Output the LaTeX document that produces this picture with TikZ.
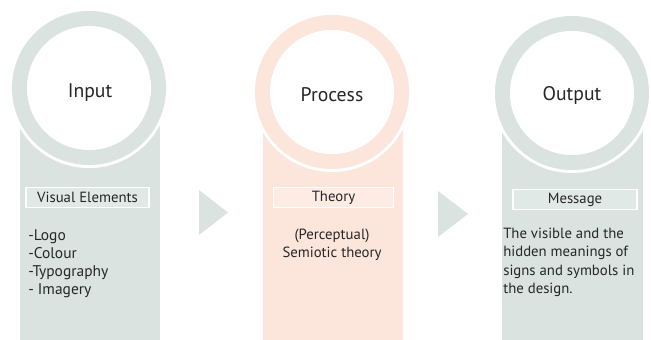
\documentclass[tikz,border=0pt]{standalone}
\usepackage{fontspec}
\setmainfont{PT Sans}
\usetikzlibrary{positioning}
\definecolor{sage}{RGB}{218,227,224}
\definecolor{blush}{RGB}{252,229,219}
\definecolor{ink}{RGB}{38,38,40}
\tikzset{
  pillar/.style={inner sep=0pt, minimum width=3.5cm, minimum height=6.25cm, anchor=north},
  halo/.style={circle, fill=white, inner sep=0pt, minimum size=4.0cm},
  ring/.style={circle, inner sep=0pt, minimum size=3.85cm},
  hole/.style={circle, fill=white, inner sep=0pt, minimum size=3.1cm},
  heading/.style={font=\fontsize{14}{16}\selectfont, text=ink},
  tag/.style={draw=white, line width=0.8pt, inner sep=0pt, minimum height=0.5cm,
              font=\fontsize{10.5}{12}\selectfont, text=ink},
  blurb/.style={font=\fontsize{10.5}{12.9}\selectfont, text=ink, align=left, inner sep=0pt},
  listblurb/.style={blurb, font=\fontsize{11}{12.9}\selectfont},
}

\begin{document}
\begin{tikzpicture}[x=0.025cm, y=-0.025cm]
    \useasboundingbox (0,0) rectangle (651,340);
    % --- the three columns ---
    \node[pillar, fill=sage]  (in-col)  at (90,90) {};
    \node[pillar, fill=blush] (pro-col) at (333,92) {};
    \node[pillar, fill=sage]  (out-col) at (572.5,93) {};
    % --- round heads, with a thin white edge over the column ---
    \node[halo] (in-halo)  at (89,88) {};
    \node[ring, fill=sage] (in-ring) at (89,88) {};
    \node[hole] (in-hole) at (89,88) {};
    \node[heading] (in-head) at (90,93) {Input};
    \node[halo] (pro-halo) at (332,92) {};
    \node[ring, fill=blush] (pro-ring) at (332,92) {};
    \node[hole] (pro-hole) at (332,92) {};
    \node[heading] (pro-head) at (332,95) {Process};
    \node[halo] (out-halo) at (572,93) {};
    \node[ring, fill=sage] (out-ring) at (572,93) {};
    \node[hole] (out-hole) at (572,93) {};
    \node[heading] (out-head) at (572,95) {Output};
    % --- labels ---
    \node[tag, fill=sage!80!white, minimum width=3.075cm] (in-tag) at (87.5,197.5) {Visual Elements};
    \node[tag, fill=blush!75!white, minimum width=3.0cm] (pro-tag) at (333.5,197.5) {Theory};
    \node[tag, fill=sage!80!white, minimum width=3.1cm] (out-tag) at (575,199.5) {Message};
    % --- contents ---
    \node[listblurb, anchor=north west] (in-text) at (28,229) {-Logo\\-Colour\\-Typography\\- Imagery};
    \node[blurb, align=center, anchor=north] (pro-text) at (332,228.5) {(Perceptual)\\Semiotic theory};
    \node[blurb, anchor=north west] (out-text) at (503,228) {The visible and the\\hidden meanings of\\signs and symbols in\\the design.};
    % --- arrows between the steps ---
    \fill[sage] (199,190) -- (228,212.5) -- (199,235) -- cycle;
    \fill[sage] (438,191) -- (468,214) -- (438,237) -- cycle;
\end{tikzpicture}
\end{document}
